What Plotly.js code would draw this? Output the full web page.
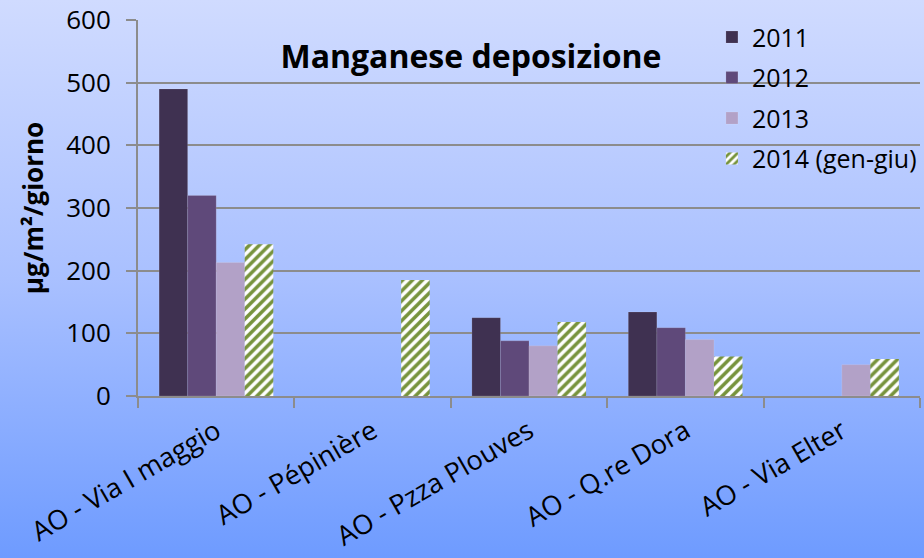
<!DOCTYPE html>
<html>
<head>
<meta charset="utf-8">
<script src="https://cdn.plot.ly/plotly-3.0.1.min.js"></script>
<style>
html,body{margin:0;padding:0;}
body{width:924px;height:558px;background:linear-gradient(to bottom,#D0DBFF 0%,#A9C0FF 50%,#6E9BFF 100%);}
#chart{width:924px;height:558px;}
</style>
</head>
<body>
<div id="chart"></div>
<script>
const categories = ["AO - Via I maggio", "AO - Pépinière", "AO - Pzza Plouves", "AO - Q.re Dora", "AO - Via Elter"];
const seriesNames = ["2011", "2012", "2013", "2014 (gen-giu)"];
const v2011 = [490, null, 125, 134, null];
const v2012 = [320, null, 88, 109, null];
const v2013 = [213, null, 80, 90, 50];
const v2014 = [242, 185, 118, 63, 59];
const yTicks = [0, 100, 200, 300, 400, 500, 600];

const font = "Open Sans, Noto Sans, sans-serif";
const colors = ["#3F3151", "#5F497A", "#B2A1C7"];
const vals = [v2011, v2012, v2013];
const traces = vals.map((v, i) => ({
  type: "bar", name: seriesNames[i], x: categories, y: v, legendgroup: "g" + i,
  marker: {color: colors[i], line: {color: "rgba(255,255,255,0.25)", width: 0.5}}
}));
traces.push({
  type: "bar", name: seriesNames[3], x: categories, y: v2014, legendgroup: "g3",
  marker: {color: "#FFFFFF", line: {width: 0},
    pattern: {shape: "/", fgcolor: "#77933C", bgcolor: "#FFFFFF", size: 7, solidity: 0.5}}
});

const layout = {
  width: 924, height: 558,
  paper_bgcolor: "rgba(0,0,0,0)", plot_bgcolor: "rgba(0,0,0,0)",
  margin: {l: 138, r: 3, t: 20, b: 162},
  barmode: "group", bargap: 0.27, bargroupgap: 0,
  font: {family: font, color: "#000"},
  title: {text: "<b>Manganese deposizione</b>", font: {family: font, size: 32, color: "#000"},
    x: 471/924, xanchor: "center", xref: "container", y: 1 - 57/558, yanchor: "middle", yref: "container"},
  xaxis: {type: "category", tickangle: -30, tickson: "boundaries", ticks: "outside", ticklen: 10,
    tickcolor: "#8C8C8C", tickwidth: 2, showline: true, linecolor: "#8C8C8C", linewidth: 2,
    ticklabelstandoff: 7, ticklabeloverflow: "allow",
    tickfont: {family: font, size: 27, color: "#000"}, showgrid: false},
  yaxis: {range: [0, 600], tickvals: yTicks, ticks: "outside", ticklen: 10, tickcolor: "#8C8C8C", tickwidth: 2,
    showline: true, linecolor: "#8C8C8C", linewidth: 2, gridcolor: "#8C8C8C", gridwidth: 2,
    zeroline: false, ticklabelstandoff: 10, ticklabeloverflow: "allow",
    tickfont: {family: font, size: 26, color: "#000"},
    title: {text: "<b>µg/m²/giorno</b>", font: {family: font, size: 26, color: "#000"}, standoff: 15}},
  legend: {x: 0.733, xanchor: "left", y: 1.015, yanchor: "top", bgcolor: "rgba(0,0,0,0)",
    traceorder: "grouped", tracegroupgap: 5,
    font: {family: font, size: 25, color: "#000"}, itemwidth: 30}
};
Plotly.newPlot("chart", traces, layout, {displayModeBar: false});
</script>
</body>
</html>
